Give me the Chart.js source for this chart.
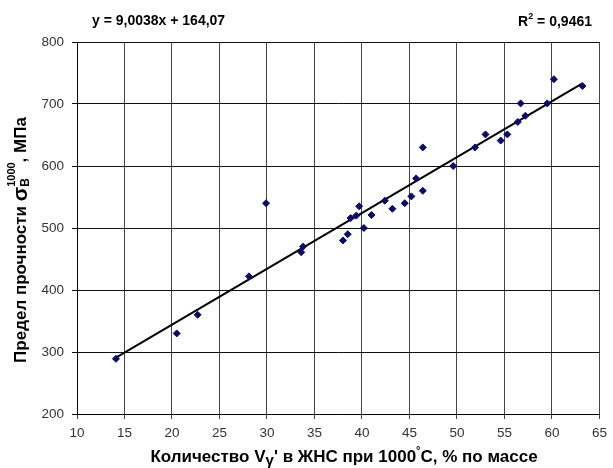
<!DOCTYPE html>
<html>
<head>
<meta charset="utf-8">
<script src="https://cdn.jsdelivr.net/npm/chart.js@4/dist/chart.umd.min.js"></script>
<style>
  html, body { margin: 0; padding: 0; background: #fff; }
  #wrap { width: 613px; height: 468px; position: relative; }
</style>
</head>
<body>
<div id="wrap"><canvas id="myChart"></canvas></div>
<script>
// measured points: V gamma' content (%) and strength (MPa)
var gammaContent = [14.1, 20.5, 22.7, 28.1, 29.9, 33.6, 33.8, 38.0, 38.5, 38.8, 39.4, 39.7, 40.2, 41.0,
    42.4, 43.2, 44.5, 45.2, 45.7, 46.4, 46.4, 49.6, 51.9, 53.0, 54.6, 55.3, 56.4, 56.7, 57.2, 59.5, 60.2, 63.2];
var strength = [289, 330, 360, 422, 540, 461, 470, 480, 490, 516, 520, 535, 500, 521,
    544, 531, 540, 551, 580, 560, 630, 600, 630, 651, 641, 651, 671, 701, 681, 701, 740, 729];

// linear trend shown on the chart
var trendSlope = 9.0038;
var trendIntercept = 164.07;
var trendRange = [14.1, 63.2];

var xTicks = [10, 15, 20, 25, 30, 35, 40, 45, 50, 55, 60, 65];
var yTicks = [200, 300, 400, 500, 600, 700, 800];

var FONT = 'Arial, "Liberation Sans", sans-serif';

var points = gammaContent.map(function (v, i) { return { x: v, y: strength[i] }; });
var trend = trendRange.map(function (v) { return { x: v, y: trendSlope * v + trendIntercept }; });

// draws a row of text pieces; a piece with "stack" goes over the previous one
function drawRich(ctx, parts, x, y, align) {
    var total = 0, prevW = 0;
    parts.forEach(function (p) {
        ctx.font = p.font;
        p.w = ctx.measureText(p.text).width;
        if (p.stack) {
            total += Math.max(0, p.w - prevW);
        } else {
            total += p.w;
        }
        prevW = p.w;
    });
    var cx = align === 'center' ? x - total / 2 : (align === 'right' ? x - total : x);
    var last = null;
    parts.forEach(function (p) {
        ctx.font = p.font;
        if (p.stack && last) {
            ctx.fillText(p.text, cx - last.w, y + (p.dy || 0));
            cx += Math.max(0, p.w - last.w);
        } else {
            ctx.fillText(p.text, cx, y + (p.dy || 0));
            cx += p.w;
        }
        last = p;
    });
}

const labelsPlugin = {
    id: 'labels',
    afterDraw: function (chart) {
        var ctx = chart.ctx;
        ctx.save();
        ctx.fillStyle = '#000';
        ctx.textBaseline = 'middle';
        ctx.textAlign = 'left';

        var b14 = 'bold 14px ' + FONT;
        var b9 = 'bold 9px ' + FONT;
        drawRich(ctx, [{ text: 'y = 9,0038x + 164,07', font: b14 }], 92, 21, 'left');
        drawRich(ctx, [
            { text: 'R', font: b14 },
            { text: '2', font: b9, dy: -5 },
            { text: ' = 0,9461', font: b14 }
        ], 592, 22, 'right');

        var b17 = 'bold 17px ' + FONT;
        drawRich(ctx, [
            { text: 'Количество V', font: b17 },
            { text: 'γ', font: 'bold 15px ' + FONT, dy: 4 },
            { text: "' в ЖНС при 1000", font: b17 },
            { text: '°', font: 'bold 11px ' + FONT, dy: -6 },
            { text: 'C, % по массе', font: b17 }
        ], 344, 457, 'center');

        ctx.translate(21, 240);
        ctx.rotate(-Math.PI / 2);
        drawRich(ctx, [
            { text: 'Предел прочности ', font: b17 },
            { text: 'σ', font: 'bold 21px ' + FONT },
            { text: 'В', font: 'bold 12px ' + FONT, dy: 5 },
            { text: '1000', font: 'bold 11px ' + FONT, dy: -9, stack: true },
            { text: ', МПа', font: b17 }
        ], 0, 0, 'center');
        ctx.restore();
    }
};

const ctx = document.getElementById('myChart').getContext('2d');
const myChart = new Chart(ctx, {
    type: 'scatter',
    data: {
        datasets: [{
            label: 'points',
            data: points,
            pointStyle: 'rectRot',
            pointRadius: 3.5,
            backgroundColor: '#0a0a6e',
            borderColor: '#0a0a6e',
            borderWidth: 1,
            order: 1
        }, {
            label: 'trend',
            type: 'line',
            data: trend,
            borderColor: '#000',
            borderWidth: 2,
            pointRadius: 0,
            fill: false,
            order: 2
        }]
    },
    options: {
        responsive: true,
        maintainAspectRatio: false,
        animation: false,
        layout: { padding: { top: 42, right: 9, bottom: 0, left: 0 } },
        plugins: {
            legend: { display: false },
            tooltip: { enabled: false }
        },
        scales: {
            x: {
                type: 'linear',
                min: 10,
                max: 65,
                afterBuildTicks: function (scale) {
                    scale.ticks = xTicks.map(function (v) { return { value: v }; });
                },
                afterFit: function (scale) { scale.height = 54; },
                grid: { color: '#444', lineWidth: 1, tickLength: 5, drawTicks: true },
                border: { display: true, color: '#000', width: 1 },
                ticks: { color: '#333', font: { family: FONT, size: 13.5 }, padding: 6, maxRotation: 0 }
            },
            y: {
                type: 'linear',
                min: 200,
                max: 800,
                afterBuildTicks: function (scale) {
                    scale.ticks = yTicks.map(function (v) { return { value: v }; });
                },
                afterFit: function (scale) { scale.width = 77; },
                grid: { color: '#111', lineWidth: 1, tickLength: 5, drawTicks: true },
                border: { display: true, color: '#000', width: 1 },
                ticks: { color: '#333', font: { family: FONT, size: 13.5 }, padding: 8 }
            }
        }
    },
    plugins: [labelsPlugin]
});
</script>
</body>
</html>
